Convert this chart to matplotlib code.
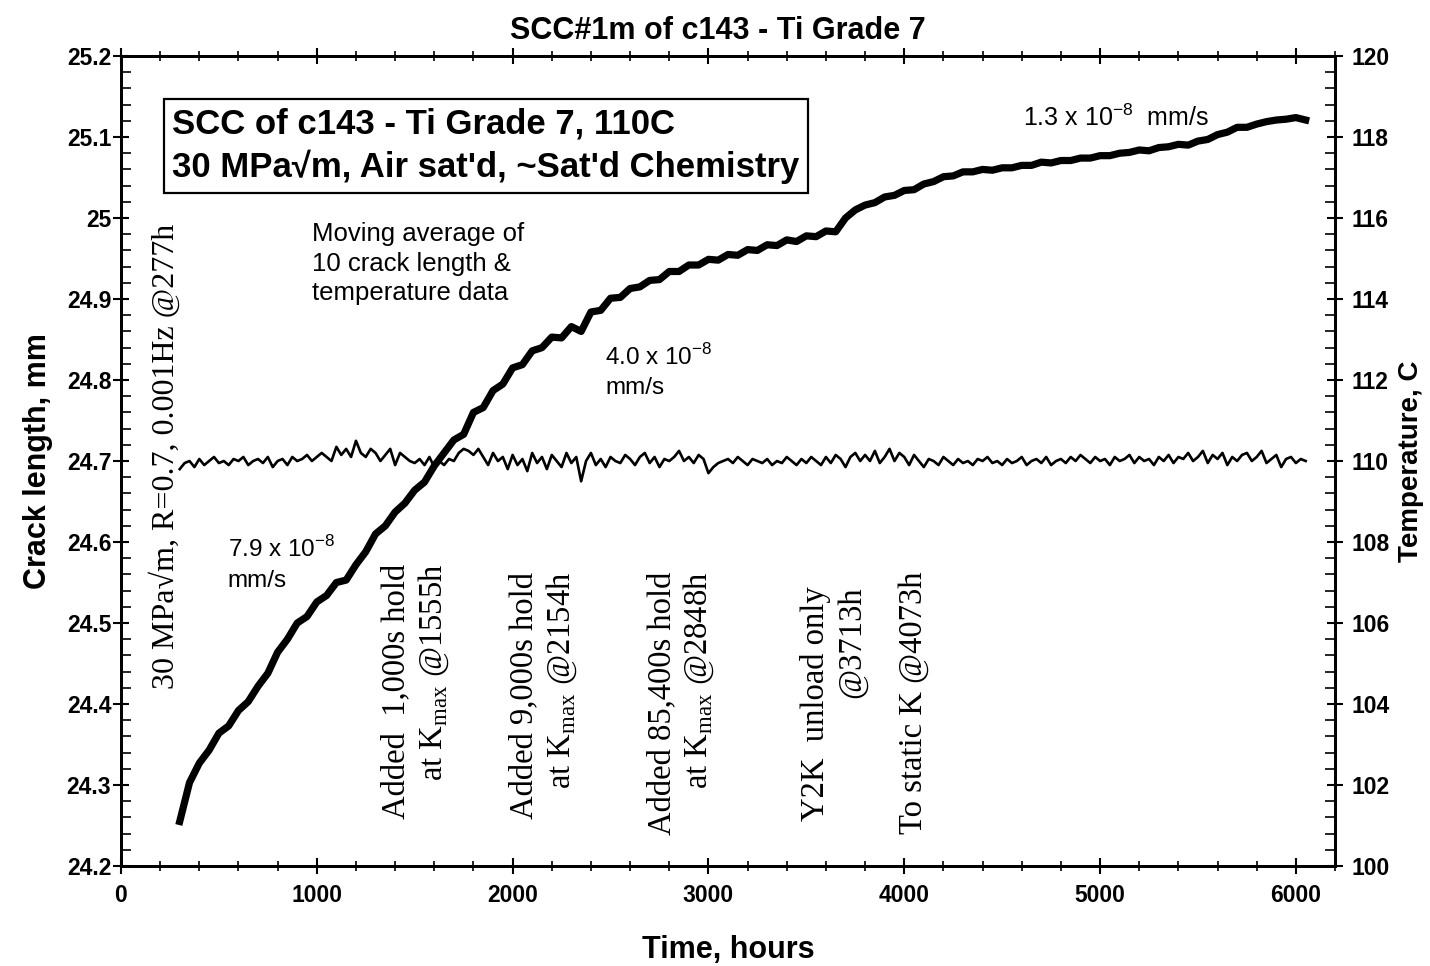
import numpy as np
import matplotlib

matplotlib.use('Agg')
import matplotlib.pyplot as plt
from matplotlib.ticker import MultipleLocator

plt.rcParams['font.family'] = ['Liberation Sans', 'DejaVu Sans']

# crack length, mm (every 50 h)
crack_hours = list(range(300, 6051, 50))
crack_mm = [
    24.255, 24.303, 24.327, 24.343, 24.364, 24.373, 24.392, 24.403, 24.422, 24.438,
    24.464, 24.480, 24.500, 24.508, 24.526, 24.534, 24.550, 24.553, 24.572, 24.588,
    24.610, 24.620, 24.637, 24.648, 24.664, 24.674, 24.694, 24.710, 24.726, 24.733,
    24.760, 24.766, 24.787, 24.795, 24.815, 24.819, 24.836, 24.840, 24.853, 24.852,
    24.866, 24.860, 24.884, 24.886, 24.901, 24.902, 24.913, 24.915, 24.923, 24.924,
    24.934, 24.934, 24.942, 24.942, 24.949, 24.948, 24.955, 24.954, 24.961, 24.960,
    24.967, 24.966, 24.973, 24.971, 24.978, 24.977, 24.984, 24.983, 25.000, 25.010,
    25.016, 25.019, 25.026, 25.028, 25.034, 25.035, 25.042, 25.045, 25.051, 25.052,
    25.057, 25.057, 25.060, 25.059, 25.062, 25.062, 25.065, 25.065, 25.069, 25.068,
    25.071, 25.071, 25.074, 25.074, 25.077, 25.077, 25.080, 25.081, 25.084, 25.083,
    25.087, 25.088, 25.091, 25.090, 25.095, 25.097, 25.103, 25.106, 25.112, 25.112,
    25.116, 25.119, 25.121, 25.122, 25.124, 25.121,
]

# temperature, C (every 25 h)
temp_hours = list(range(300, 6051, 25))
temp_c = [
    109.8, 109.95, 110.0, 109.85, 110.05, 109.9, 110.0, 110.1, 109.95, 110.0,
    109.9, 110.05, 110.0, 110.1, 109.9, 110.0, 110.05, 109.95, 110.1, 109.85,
    110.0, 110.05, 109.9, 110.1, 110.0, 110.05, 110.15, 110.0, 110.1, 110.2,
    110.1, 110.0, 110.35, 110.15, 110.3, 110.1, 110.5, 110.2, 110.1, 110.3,
    110.2, 110.0, 110.15, 110.3, 109.9, 110.2, 110.1, 110.0, 109.95, 110.05,
    109.9, 110.1, 109.85, 110.0, 109.9, 110.05, 110.0, 110.2, 110.3, 110.25,
    110.15, 110.3, 110.1, 109.9, 110.2, 110.0, 110.1, 109.8, 110.15, 109.9,
    110.05, 109.75, 110.2, 109.95, 110.1, 109.8, 110.15, 110.0, 109.85, 110.2,
    109.95, 110.1, 109.5, 110.0, 110.2, 109.9, 110.05, 109.85, 110.1, 110.0,
    109.95, 110.15, 110.05, 109.9, 110.1, 110.2, 109.95, 110.1, 109.85, 110.05,
    110.0, 110.1, 110.25, 110.0, 110.1, 109.95, 110.15, 110.05, 109.7, 109.85,
    109.95, 110.0, 110.05, 109.95, 110.1, 110.0, 109.9, 110.05, 110.0, 109.95,
    110.05, 109.9, 110.0, 109.95, 110.1, 110.0, 109.9, 110.05, 109.95, 110.1,
    110.0, 109.9, 110.1, 109.95, 110.15, 110.05, 109.85, 110.1, 110.2, 110.0,
    110.15, 110.0, 110.25, 109.95, 110.1, 110.3, 110.0, 110.2, 110.1, 109.9,
    110.15, 110.0, 109.85, 110.05, 110.0, 109.9, 110.1, 110.0, 109.9, 110.05,
    109.95, 110.0, 109.9, 110.05, 110.0, 110.1, 109.95, 110.0, 109.9, 110.05,
    109.95, 110.0, 110.1, 109.9, 110.0, 110.05, 109.95, 110.1, 109.9, 110.0,
    110.05, 109.95, 110.1, 110.0, 110.15, 110.05, 109.95, 110.1, 110.0, 110.05,
    109.9, 110.1, 110.0, 110.05, 110.15, 109.95, 110.1, 110.0, 110.05, 109.9,
    110.1, 110.0, 110.15, 109.95, 110.1, 110.05, 110.2, 110.0, 110.1, 110.25,
    109.95, 110.15, 110.05, 110.2, 109.9, 110.1, 110.0, 110.15, 110.2, 110.0,
    110.1, 110.25, 109.95, 110.05, 110.15, 109.85, 110.05, 110.1, 109.95, 110.05,
    110.0,
]

# vertical event notes: (hour, top of text in mm, text)
events = [
    (1504, 24.573, 'Added  1,000s hold\nat K$_\\mathregular{max}$ @1555h'),
    (2161, 24.563, 'Added 9,000s hold\nat K$_\\mathregular{max}$ @2154h'),
    (2862, 24.563, 'Added 85,400s hold\nat K$_\\mathregular{max}$ @2848h'),
    (3639, 24.545, 'Y2K  unload only\n@3713h'),
    (4047, 24.563, 'To static K @4073h'),
]

fig = plt.figure(figsize=(14.3, 9.66), dpi=100)
ax = fig.add_axes([0.0846, 0.1035, 0.8490, 0.8385])
ax2 = ax.twinx()

ax.plot(crack_hours, crack_mm, color='black', lw=5.2)
ax2.plot(temp_hours, temp_c, color='black', lw=1.9)

ax.set_xlim(0, 6200)
ax.set_ylim(24.2, 25.2)
ax2.set_ylim(100, 120)

ax.xaxis.set_major_locator(MultipleLocator(1000))
ax.xaxis.set_minor_locator(MultipleLocator(200))
ax.yaxis.set_minor_locator(MultipleLocator(0.02))
ax2.yaxis.set_major_locator(MultipleLocator(2))
ax2.yaxis.set_minor_locator(MultipleLocator(0.4))
ax.set_yticks(np.arange(24.2, 25.21, 0.1))
ax.set_yticklabels(['24.2', '24.3', '24.4', '24.5', '24.6', '24.7', '24.8',
                    '24.9', '25', '25.1', '25.2'])

ax.tick_params(axis='x', which='major', direction='inout', length=12, width=1.5,
               labelsize=16.5, pad=7, top=True)
ax.tick_params(axis='x', which='minor', direction='inout', length=7, width=1.2, top=True)
ax.tick_params(axis='y', which='major', direction='inout', length=12, width=1.5,
               labelsize=16.5, pad=1)
ax.tick_params(axis='y', which='minor', direction='in', length=7, width=1.2)
ax2.tick_params(axis='y', which='major', direction='inout', length=12, width=1.5,
                labelsize=16.5, pad=6)
ax2.tick_params(axis='y', which='minor', direction='in', length=7, width=1.2)
for lab in ax.get_xticklabels() + ax.get_yticklabels() + ax2.get_yticklabels():
    lab.set_fontweight('bold')

for a in (ax, ax2):
    for s in a.spines.values():
        s.set_linewidth(2)

ax.set_title('SCC#1m of c143 - Ti Grade 7', fontsize=22, fontweight='bold', pad=12, x=0.492)
ax.set_xlabel('Time, hours', fontsize=22, fontweight='bold', labelpad=20)
ax.set_ylabel('Crack length, mm', fontsize=22, fontweight='bold', labelpad=10)
ax2.set_ylabel('Temperature, C', fontsize=20, fontweight='bold', labelpad=6)

ax.text(262, 25.136, 'SCC of c143 - Ti Grade 7, 110C\n30 MPa\u221am, Air sat\'d, ~Sat\'d Chemistry',
        fontsize=25, fontweight='bold', ha='left', va='top', linespacing=1.32,
        bbox=dict(boxstyle='square,pad=0.25', fc='white', ec='black', lw=1.6))

ax.text(973, 24.995, 'Moving average of\n10 crack length &\ntemperature data',
        fontsize=18.5, ha='left', va='top', linespacing=1.3)
ax.text(545, 24.607, '7.9 x 10$^\\mathregular{-8}$\nmm/s', fontsize=17.5, ha='left', va='top',
        linespacing=1.45)
ax.text(2472, 24.845, '4.0 x 10$^\\mathregular{-8}$\nmm/s', fontsize=17.5, ha='left', va='top',
        linespacing=1.45)
ax.text(4608, 25.14, '1.3 x 10$^\\mathregular{-8}$  mm/s', fontsize=18, ha='left', va='top')

ax.text(224, 24.993, '30 MPa\u221am, R=0.7, 0.001Hz @277h', rotation=90,
        family=['Liberation Serif', 'DejaVu Serif'], fontsize=23, ha='center', va='top')
for hour, top, label in events:
    ax.text(hour, top, label, rotation=90, family=['Liberation Serif', 'DejaVu Serif'],
            fontsize=23.5, ha='center', va='top', multialignment='right', linespacing=1.2)

fig.savefig('out.png', dpi=100)
